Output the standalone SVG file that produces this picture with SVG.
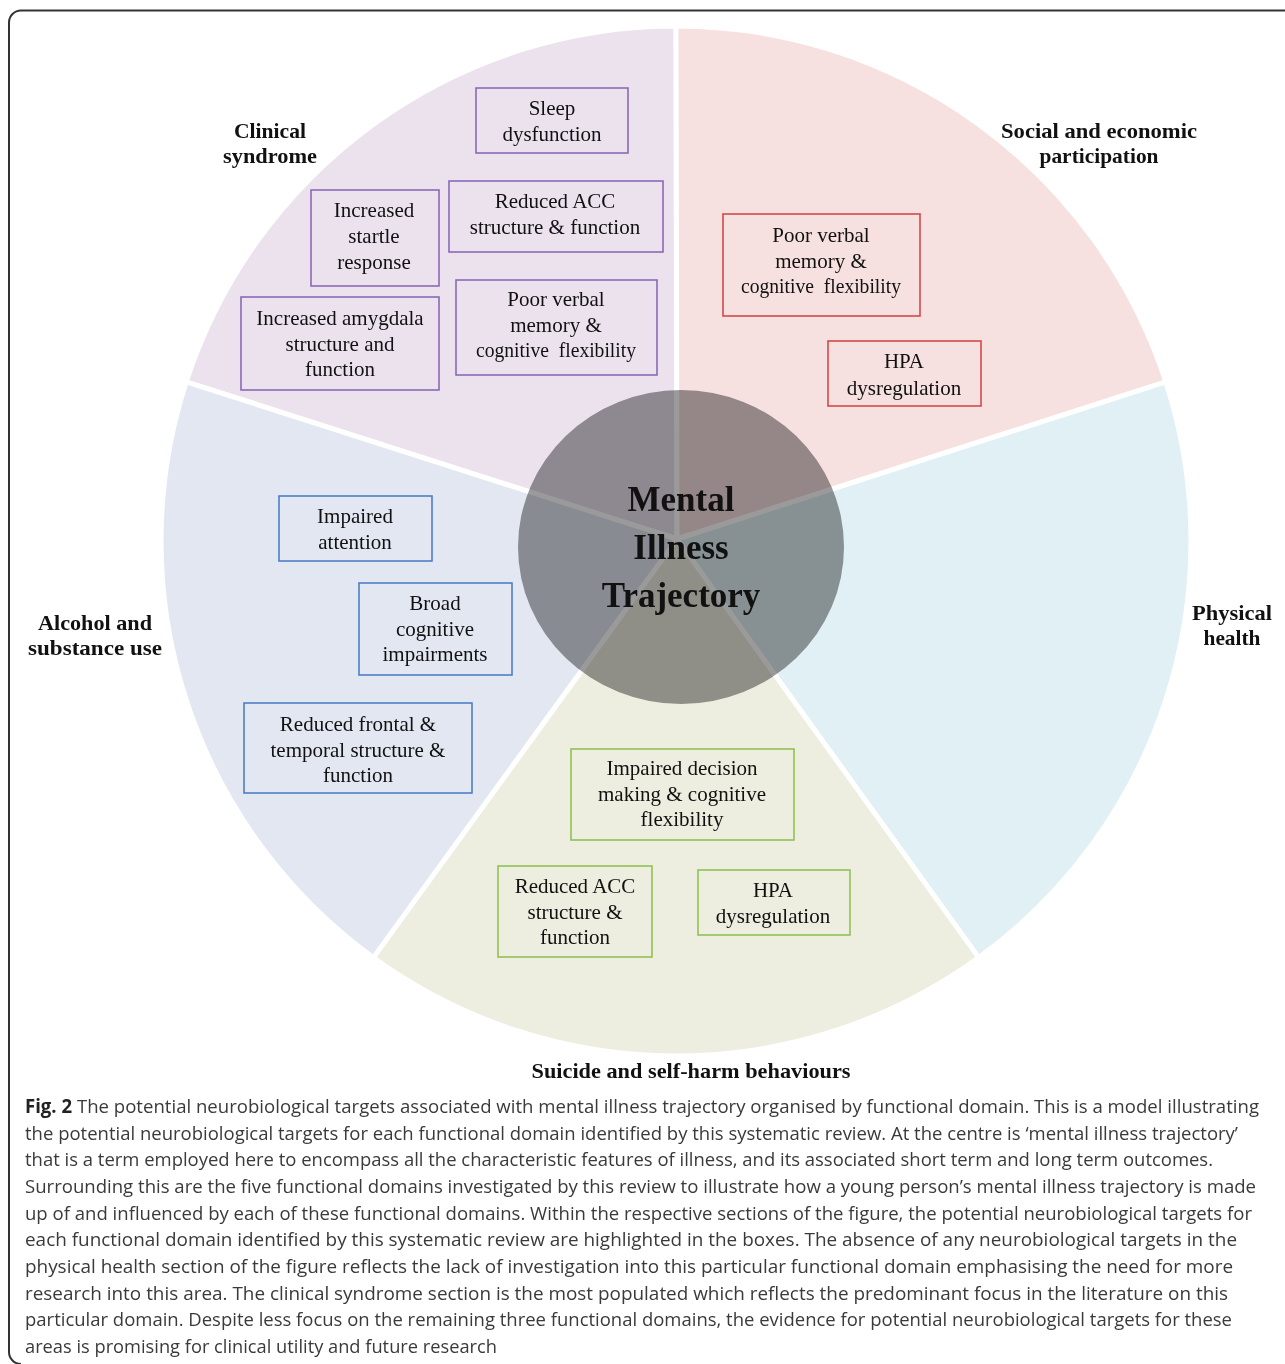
<svg xmlns="http://www.w3.org/2000/svg" width="1285" height="1364" viewBox="0 0 1285 1364">
<style>
.sec{stroke:#ffffff;stroke-width:5;stroke-linejoin:round}
.box{stroke-width:1.6}
.bp{fill:none;stroke:#8d68b8}
.br{fill:none;stroke:#d24a4a}
.bb{fill:none;stroke:#4d7fc6}
.bg{fill:none;stroke:#8fc255}
.bt{font-family:"Liberation Serif","Times New Roman",serif;font-size:21px;fill:#111;text-anchor:middle}
.hd{font-family:"Liberation Serif","Times New Roman",serif;font-size:21px;font-weight:bold;fill:#111;text-anchor:middle}
.ct{font-family:"Liberation Serif","Times New Roman",serif;font-size:35px;font-weight:bold;fill:#111;text-anchor:middle}
.cap{font-family:"Open Sans","Noto Sans","Liberation Sans",sans-serif;font-size:19px;fill:#3a3a3a}
.capb{font-weight:bold;fill:#222}
</style>
<rect x="0" y="0" width="1285" height="1364" fill="#ffffff"/>
<path d="M1290 10.5 H21 A12 12 0 0 0 9 22.5 V1352 A12 12 0 0 0 21 1364" fill="none" stroke="#333" stroke-width="2"/>

<g id="sectors">
<path id="sector-clinical" class="sec" fill="#ebe2ee" d="M677 539 L186.2 381.9 A515 515 0 0 1 676 26 Z"/>
<path id="sector-social" class="sec" fill="#f7e0e0" d="M677 539 L676 26 A515 515 0 0 1 1165.8 381.9 Z"/>
<path id="sector-physical" class="sec" fill="#e0f0f4" d="M677 539 L1165.8 381.9 A515 515 0 0 1 978.7 957.6 Z"/>
<path id="sector-suicide" class="sec" fill="#edede0" d="M677 539 L978.7 957.6 A515 515 0 0 1 373.3 957.6 Z"/>
<path id="sector-alcohol" class="sec" fill="#e2e7f2" d="M677 539 L373.3 957.6 A515 515 0 0 1 186.2 381.9 Z"/>
</g>

<g id="center">
<ellipse cx="681" cy="547" rx="163" ry="157" fill="#9a9a9a" style="mix-blend-mode:multiply"/>
<text class="ct" x="681" y="511">Mental</text>
<text class="ct" x="681" y="559">Illness</text>
<text class="ct" x="681" y="607">Trajectory</text>
</g>

<g id="connectors"></g>

<g id="label-clinical"><text class="hd" x="270" y="138" textLength="72" lengthAdjust="spacingAndGlyphs">Clinical</text><text class="hd" x="270" y="163" textLength="94" lengthAdjust="spacingAndGlyphs">syndrome</text></g>
<g id="label-social"><text class="hd" x="1099" y="138" textLength="196" lengthAdjust="spacingAndGlyphs">Social and economic</text><text class="hd" x="1099" y="163" textLength="119" lengthAdjust="spacingAndGlyphs">participation</text></g>
<g id="label-physical"><text class="hd" x="1232" y="620" textLength="80" lengthAdjust="spacingAndGlyphs">Physical</text><text class="hd" x="1232" y="645" textLength="57" lengthAdjust="spacingAndGlyphs">health</text></g>
<g id="label-alcohol"><text class="hd" x="95" y="630" textLength="114" lengthAdjust="spacingAndGlyphs">Alcohol and</text><text class="hd" x="95" y="655" textLength="134" lengthAdjust="spacingAndGlyphs">substance use</text></g>
<g id="label-suicide"><text class="hd" x="691" y="1078" textLength="319" lengthAdjust="spacingAndGlyphs">Suicide and self-harm behaviours</text></g>

<g id="box-sleep"><rect class="box bp" x="476" y="88" width="152" height="65"/><text class="bt" x="552" y="115">Sleep</text><text class="bt" x="552" y="141">dysfunction</text></g>
<g id="box-acc-clinical"><rect class="box bp" x="449" y="181" width="214" height="71"/><text class="bt" x="555" y="208">Reduced ACC</text><text class="bt" x="555" y="234">structure &amp; function</text></g>
<g id="box-startle"><rect class="box bp" x="311" y="190" width="128" height="96"/><text class="bt" x="374" y="217">Increased</text><text class="bt" x="374" y="243">startle</text><text class="bt" x="374" y="269">response</text></g>
<g id="box-verbal-clinical"><rect class="box bp" x="456" y="280" width="201" height="95"/><text class="bt" x="556" y="306">Poor verbal</text><text class="bt" x="556" y="332">memory &amp;</text><text class="bt" x="556" y="357" textLength="160" lengthAdjust="spacingAndGlyphs">cognitive&#160; flexibility</text></g>
<g id="box-amygdala"><rect class="box bp" x="241" y="297" width="198" height="93"/><text class="bt" x="340" y="325">Increased amygdala</text><text class="bt" x="340" y="351">structure and</text><text class="bt" x="340" y="376">function</text></g>

<g id="box-verbal-social"><rect class="box br" x="723" y="214" width="197" height="102"/><text class="bt" x="821" y="242">Poor verbal</text><text class="bt" x="821" y="268">memory &amp;</text><text class="bt" x="821" y="293" textLength="160" lengthAdjust="spacingAndGlyphs">cognitive&#160; flexibility</text></g>
<g id="box-hpa-social"><rect class="box br" x="828" y="341" width="153" height="65"/><text class="bt" x="904" y="368">HPA</text><text class="bt" x="904" y="395">dysregulation</text></g>

<g id="box-attention"><rect class="box bb" x="279" y="496" width="153" height="65"/><text class="bt" x="355" y="523">Impaired</text><text class="bt" x="355" y="549">attention</text></g>
<g id="box-broad"><rect class="box bb" x="359" y="583" width="153" height="92"/><text class="bt" x="435" y="610">Broad</text><text class="bt" x="435" y="636">cognitive</text><text class="bt" x="435" y="661">impairments</text></g>
<g id="box-frontal"><rect class="box bb" x="244" y="703" width="228" height="90"/><text class="bt" x="358" y="731">Reduced frontal &amp;</text><text class="bt" x="358" y="757">temporal structure &amp;</text><text class="bt" x="358" y="782">function</text></g>

<g id="box-decision"><rect class="box bg" x="571" y="749" width="223" height="91"/><text class="bt" x="682" y="775">Impaired decision</text><text class="bt" x="682" y="801">making &amp; cognitive</text><text class="bt" x="682" y="826">flexibility</text></g>
<g id="box-acc-suicide"><rect class="box bg" x="498" y="866" width="154" height="91"/><text class="bt" x="575" y="893">Reduced ACC</text><text class="bt" x="575" y="919">structure &amp;</text><text class="bt" x="575" y="944">function</text></g>
<g id="box-hpa-suicide"><rect class="box bg" x="698" y="870" width="152" height="65"/><text class="bt" x="773" y="897">HPA</text><text class="bt" x="773" y="923">dysregulation</text></g>

<g id="caption">
<text class="cap" x="25" y="1113" textLength="1234" lengthAdjust="spacingAndGlyphs"><tspan class="capb">Fig. 2</tspan> The potential neurobiological targets associated with mental illness trajectory organised by functional domain. This is a model illustrating</text>
<text class="cap" x="25" y="1140" textLength="1213" lengthAdjust="spacingAndGlyphs">the potential neurobiological targets for each functional domain identified by this systematic review. At the centre is ‘mental illness trajectory’</text>
<text class="cap" x="25" y="1166" textLength="1188" lengthAdjust="spacingAndGlyphs">that is a term employed here to encompass all the characteristic features of illness, and its associated short term and long term outcomes.</text>
<text class="cap" x="25" y="1193" textLength="1231" lengthAdjust="spacingAndGlyphs">Surrounding this are the five functional domains investigated by this review to illustrate how a young person’s mental illness trajectory is made</text>
<text class="cap" x="25" y="1220" textLength="1227" lengthAdjust="spacingAndGlyphs">up of and influenced by each of these functional domains. Within the respective sections of the figure, the potential neurobiological targets for</text>
<text class="cap" x="25" y="1246" textLength="1212" lengthAdjust="spacingAndGlyphs">each functional domain identified by this systematic review are highlighted in the boxes. The absence of any neurobiological targets in the</text>
<text class="cap" x="25" y="1273" textLength="1208" lengthAdjust="spacingAndGlyphs">physical health section of the figure reflects the lack of investigation into this particular functional domain emphasising the need for more</text>
<text class="cap" x="25" y="1300" textLength="1203" lengthAdjust="spacingAndGlyphs">research into this area. The clinical syndrome section is the most populated which reflects the predominant focus in the literature on this</text>
<text class="cap" x="25" y="1326" textLength="1207" lengthAdjust="spacingAndGlyphs">particular domain. Despite less focus on the remaining three functional domains, the evidence for potential neurobiological targets for these</text>
<text class="cap" x="25" y="1353" textLength="472" lengthAdjust="spacingAndGlyphs">areas is promising for clinical utility and future research</text>
</g>
</svg>
